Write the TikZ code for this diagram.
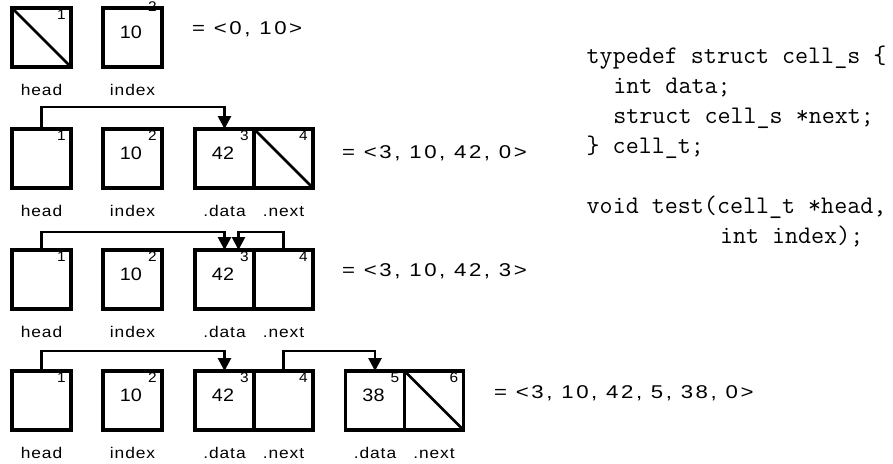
\documentclass[tikz,border=0pt]{standalone}
\usepackage{fontspec}
\usetikzlibrary{arrows.meta,calc,positioning}
\newfontfamily\labfont[FakeStretch=1.12,LetterSpace=6]{Liberation Sans}
\newfontfamily\eqfont[FakeStretch=1.2,LetterSpace=14]{Liberation Sans}
\newfontfamily\numfont[FakeStretch=1.1]{Liberation Sans}

\begin{document}
\begin{tikzpicture}[x=1pt,y=-1pt,
  cell/.style={draw,line width=3.4pt,minimum size=59pt,inner sep=0pt,outer sep=0pt},
  nil/.style={cell,path picture={\draw[line width=2.7pt] (path picture bounding box.north west)--(path picture bounding box.south east);}},
  val/.style={font=\numfont\fontsize{18}{20}\selectfont,inner sep=0pt},
  num/.style={font=\numfont\fontsize{14}{16}\selectfont,inner sep=0pt,anchor=north east},
  lbl/.style={font=\labfont\fontsize{15.5}{18}\selectfont,inner sep=0pt,anchor=base},
  eq/.style={font=\eqfont\fontsize{18.5}{20}\selectfont,inner sep=0pt,anchor=base west},
  ptr/.style={line width=2.7pt,-{Triangle[width=13pt,length=13pt]}},
  code/.style={font=\ttfamily\fontsize{25.3}{30}\selectfont,inner sep=0pt,anchor=base west}]
\useasboundingbox (0,0) rectangle (893,463);
% row 1: head = NULL
\node[nil]  (h1) at (41.5,37.5) {};
\node[cell] (i1) at (132.5,37.5) {};
% row 2: one cell
\node[cell] (h2) at (41.5,158.5) {};
\node[cell] (i2) at (132.5,158.5) {};
\node[cell] (d2) at (224.5,158.5) {};
\node[nil]  (n2) at (283.5,158.5) {};
% row 3: cell points to itself
\node[cell] (h3) at (41.5,279.5) {};
\node[cell] (i3) at (132.5,279.5) {};
\node[cell] (d3) at (224.5,279.5) {};
\node[cell] (n3) at (283.5,279.5) {};
% row 4: two cells
\node[cell] (h4) at (41.5,400.5) {};
\node[cell] (i4) at (132.5,400.5) {};
\node[cell] (d4) at (224.5,400.5) {};
\node[cell] (n4) at (283.5,400.5) {};
\node[cell] (d5) at (375,400.5) {};
\node[nil]  (n5) at (434,400.5) {};
% values
\foreach \c/\v in {i1/10,i2/10,d2/42,i3/10,d3/42,i4/10,d4/42,d5/38}{\node[val] (v\c) at ($(\c)+(-1.5,-5)$) {\v};}
% addresses
\node[num] (ki1) at ($(i1.north east)+(-5,-6.3)$) {2};
\foreach \c/\k in {h1/1,h2/1,i2/2,d2/3,n2/4,h3/1,i3/2,d3/3,n3/4,h4/1,i4/2,d4/3,n4/4,d5/5,n5/6}{\node[num] (k\c) at ($(\c.north east)+(-5,1.5)$) {\k};}
% names under the cells
\foreach \c/\t in {h1/head,i1/index,h2/head,i2/index,d2/.data,n2/.next,h3/head,i3/index,d3/.data,n3/.next,h4/head,i4/index,d4/.data,n4/.next,d5/.data,n5/.next}{\node[lbl] (l\c) at ($(\c)+(0,57.5)$) {\t};}
% pointers
\draw[ptr] (h2.north) -- ++(0,-22) -| (d2.north);
\draw[ptr] (h3.north) -- ++(0,-18) -| (d3.north);
\draw[ptr] (n3.north) -- ++(0,-18) -| ($(d3.north)+(14,0)$);
\draw[ptr] (h4.north) -- ++(0,-20) -| (d4.north);
\draw[ptr] (n4.north) -- ++(0,-20) -| (d5.north);
% memory contents
\node[eq] (e1) at ($(i1.east)+(30,-3.2)$) {= <0, 10>};
\node[eq] (e2) at ($(n2.east)+(29,-0.2)$) {= <3, 10, 42, 0>};
\node[eq] (e3) at ($(n3.east)+(29,-2.8)$) {= <3, 10, 42, 3>};
\node[eq] (e4) at ($(n5.east)+(30.5,-2.2)$) {= <3, 10, 42, 5, 38, 0>};
% C declarations
\foreach \i/\c/\txt in {1/0/{typedef struct cell\_s \{},2/2/{int data;},3/2/{struct cell\_s *next;},4/0/{\} cell\_t;},6/0/{void test(cell\_t *head,},7/10/{int index);}}{\node[code] (code\i) at (586.5+13.33*\c,33.3+30*\i) {\txt};}
\end{tikzpicture}
\end{document}
